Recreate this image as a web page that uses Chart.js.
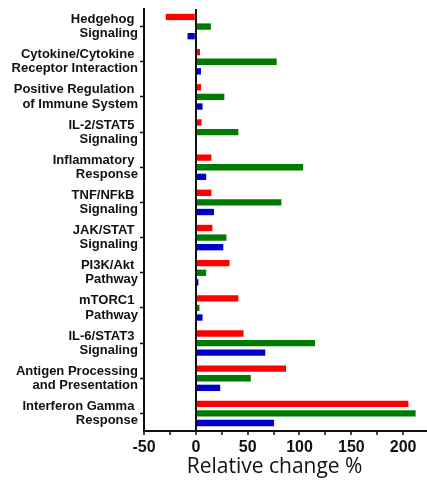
<!DOCTYPE html>
<html>
<head>
<meta charset="utf-8">
<script src="https://cdn.jsdelivr.net/npm/chart.js@4"></script>
<style>
  html, body { margin: 0; padding: 0; background: #fff; }
  #wrap { width: 427px; height: 482px; position: relative; }
</style>
</head>
<body>
<div id="wrap"><canvas id="myChart"></canvas></div>
<script>
(() => {
    "use strict";

    // pathway names, two lines each (trailing space kept as in the figure)
    const categories = [
        ["Hedgehog ", "Signaling"],
        ["Cytokine/Cytokine ", "Receptor Interaction"],
        ["Positive Regulation ", "of Immune System"],
        ["IL-2/STAT5 ", "Signaling"],
        ["Inflammatory ", "Response"],
        ["TNF/NFkB ", "Signaling"],
        ["JAK/STAT ", "Signaling"],
        ["PI3K/Akt ", "Pathway"],
        ["mTORC1 ", "Pathway"],
        ["IL-6/STAT3 ", "Signaling"],
        ["Antigen Processing", "and Presentation"],
        ["Interferon Gamma ", "Response"]
    ];

    const redValues = [-29, 4, 5, 5.5, 15, 15, 16, 32.5, 41, 46, 87, 205];
    const greenValues = [14.5, 78, 27.5, 41, 103.5, 82.5, 29.5, 10, 3.5, 115, 53, 212];
    const blueValues = [-8, 5, 6.5, 0, 10, 17.5, 26.5, 2.5, 6.5, 67, 23.5, 75.5];

    const xTickLabels = [-50, 0, 50, 100, 150, 200];
    const xTitle = "Relative change %";

    const labelFont = { family: "'Liberation Sans', Arial, sans-serif", size: 13, weight: "bold", lineHeight: 1.08 };

    const ctx = document.getElementById("myChart").getContext("2d");
    // eslint-disable-next-line no-unused-vars
    const myChart = new Chart(ctx, {
        type: "bar",
        data: {
            labels: categories,
            datasets: [{
                label: "red",
                data: redValues,
                backgroundColor: "#ff0000"
            }, {
                label: "green",
                data: greenValues,
                backgroundColor: "#007a00"
            }, {
                label: "blue",
                data: blueValues,
                backgroundColor: "#0000cc"
            }]
        },
        options: {
            indexAxis: "y",
            responsive: true,
            maintainAspectRatio: false,
            animation: false,
            categoryPercentage: 0.82,
            barPercentage: 0.66,
            layout: { padding: { top: 9, right: 0, bottom: 0, left: 0 } },
            plugins: {
                legend: { display: false },
                tooltip: { enabled: false }
            },
            scales: {
                x: {
                    type: "linear",
                    min: -50,
                    max: 223,
                    afterBuildTicks: (scale) => {
                        scale.ticks = scale.ticks.filter(t => t.value % 25 === 0);
                    },
                    afterFit: (scale) => {
                        scale.height = 51;
                        scale.paddingLeft = 0;
                        scale.paddingRight = 0;
                    },
                    ticks: {
                        stepSize: 25,
                        includeBounds: false,
                        autoSkip: false,
                        maxRotation: 0,
                        padding: 3,
                        color: "#111",
                        font: { family: "'Liberation Sans', Arial, sans-serif", size: 16, weight: "bold" },
                        callback: (v) => xTickLabels.includes(v) ? String(v) : ""
                    },
                    grid: {
                        drawOnChartArea: true,
                        drawTicks: true,
                        tickLength: 4,
                        tickColor: "#111",
                        tickWidth: 1.5,
                        color: (c) => (c.tick && c.tick.value === 0) ? "#111" : "rgba(0,0,0,0)",
                        lineWidth: (c) => (c.tick && c.tick.value === 0) ? 2 : 0
                    },
                    border: { display: true, color: "#111", width: 2 },
                    title: {
                        display: true,
                        text: xTitle + "    ",
                        color: "#111",
                        font: { family: "'Open Sans', sans-serif", size: 21, weight: "normal" },
                        padding: { top: 0, bottom: 2 }
                    }
                },
                y: {
                    type: "category",
                    afterFit: (scale) => {
                        scale.width = 144;
                        scale.paddingTop = 0;
                        scale.paddingBottom = 0;
                    },
                    ticks: {
                        padding: 2,
                        color: "#111",
                        font: labelFont,
                        autoSkip: false
                    },
                    grid: {
                        offset: false,
                        drawOnChartArea: false,
                        drawTicks: true,
                        tickLength: 4,
                        tickColor: "#111",
                        tickWidth: 1.5
                    },
                    border: { display: true, color: "#111", width: 2 }
                }
            }
        }
    });
})();
</script>
</body>
</html>
